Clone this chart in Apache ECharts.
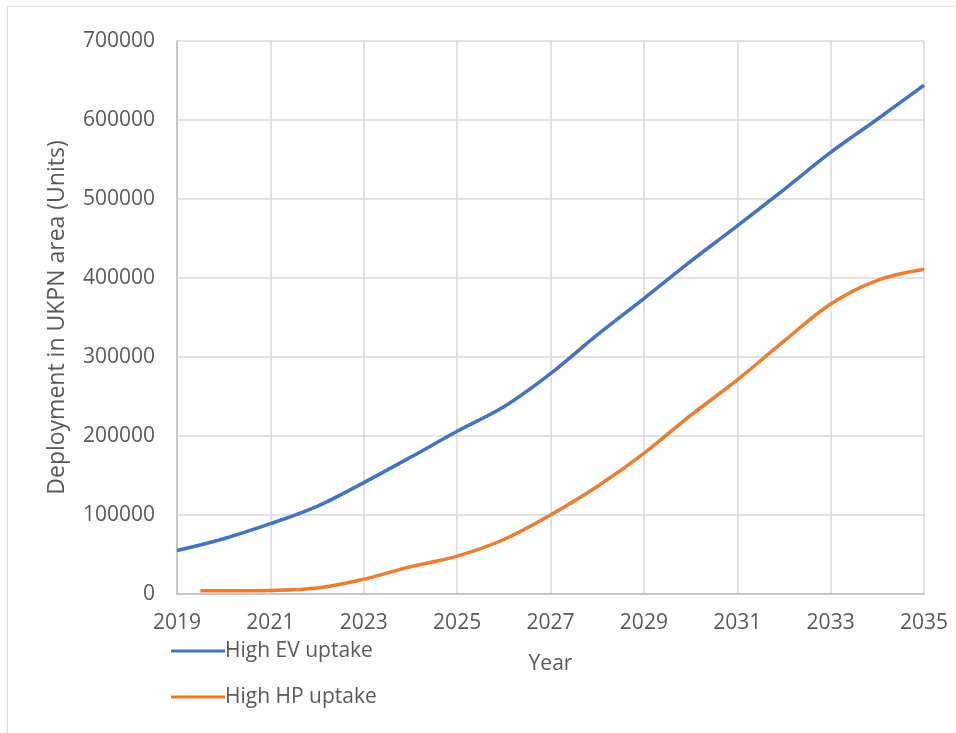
<!DOCTYPE html>
<html><head><meta charset="utf-8">
<script src="https://cdn.jsdelivr.net/npm/echarts@6/dist/echarts.min.js"></script>
<style>html,body{margin:0;padding:0;background:#fff}#c{width:956px;height:733px}</style>
</head><body><div id="c"></div>
<script>
const evYears = [2019,2020,2021,2022,2023,2024,2025,2026,2027,2028,2029,2030,2031,2032,2033,2034,2035];
const evValues = [55000,70000,89000,111000,141000,173000,206000,237000,279000,328000,374000,421000,466000,512000,559000,601000,644000];
const hpYears = [2019.5,2020,2021,2022,2023,2024,2025,2026,2027,2028,2029,2030,2031,2032,2033,2034,2035];
const hpValues = [4000,4000,4500,7500,18600,34500,48000,69000,100000,136000,178000,226000,271000,320000,367000,397000,411000];
const seriesNames = ['High EV uptake','High HP uptake'];
const xTitle = 'Year';
const yTitle = 'Deployment in UKPN area (Units)';

const font = '"Open Sans", sans-serif';
const chart = echarts.init(document.getElementById('c'), null, {renderer:'canvas'});
chart.setOption({
  animation:false,
  graphic:[{type:'rect',shape:{x:7.5,y:6.5,width:1000,height:1000},style:{fill:'none',stroke:'#d9d9d9',lineWidth:1}}],
  grid:{left:177,right:32,top:41,bottom:139},
  legend:{
    orient:'vertical',left:166,top:632,itemGap:18,itemWidth:54,itemHeight:28,
    icon:'path://M0,12.5 L54,12.5 L54,15.5 L0,15.5 Z',
    textStyle:{fontFamily:font,fontSize:21,color:'#595959',padding:[0,0,0,-5],lineHeight:28},
    data:seriesNames
  },
  xAxis:{
    type:'value',min:2019,max:2035,interval:2,
    name:xTitle,nameLocation:'middle',nameGap:60,
    nameTextStyle:{fontFamily:font,fontSize:21,color:'#595959'},
    axisLine:{show:true,lineStyle:{color:'#bfbfbf',width:1.5}},
    axisTick:{show:false},
    axisLabel:{fontFamily:font,fontSize:21,color:'#595959',margin:19,formatter:v=>String(v)},
    splitLine:{show:true,lineStyle:{color:'#d9d9d9',width:1.5}}
  },
  yAxis:{
    type:'value',min:0,max:700000,interval:100000,
    name:yTitle,nameLocation:'middle',nameGap:108,
    nameTextStyle:{fontFamily:font,fontSize:23,color:'#595959'},
    axisLine:{show:true,lineStyle:{color:'#bfbfbf',width:1.5}},
    axisTick:{show:false},
    axisLabel:{fontFamily:font,fontSize:21,color:'#595959',margin:22,formatter:v=>String(v)},
    splitLine:{show:true,lineStyle:{color:'#d9d9d9',width:1.5}}
  },
  series:[
    {name:seriesNames[0],type:'line',smooth:0.35,showSymbol:false,symbol:'none',
     lineStyle:{color:'#4472C4',width:3.5},itemStyle:{color:'#4472C4'},
     data:evYears.map((y,i)=>[y,evValues[i]])},
    {name:seriesNames[1],type:'line',smooth:0.35,showSymbol:false,symbol:'none',
     lineStyle:{color:'#ED7D31',width:3.5},itemStyle:{color:'#ED7D31'},
     data:hpYears.map((y,i)=>[y,hpValues[i]])}
  ]
});
</script></body></html>
